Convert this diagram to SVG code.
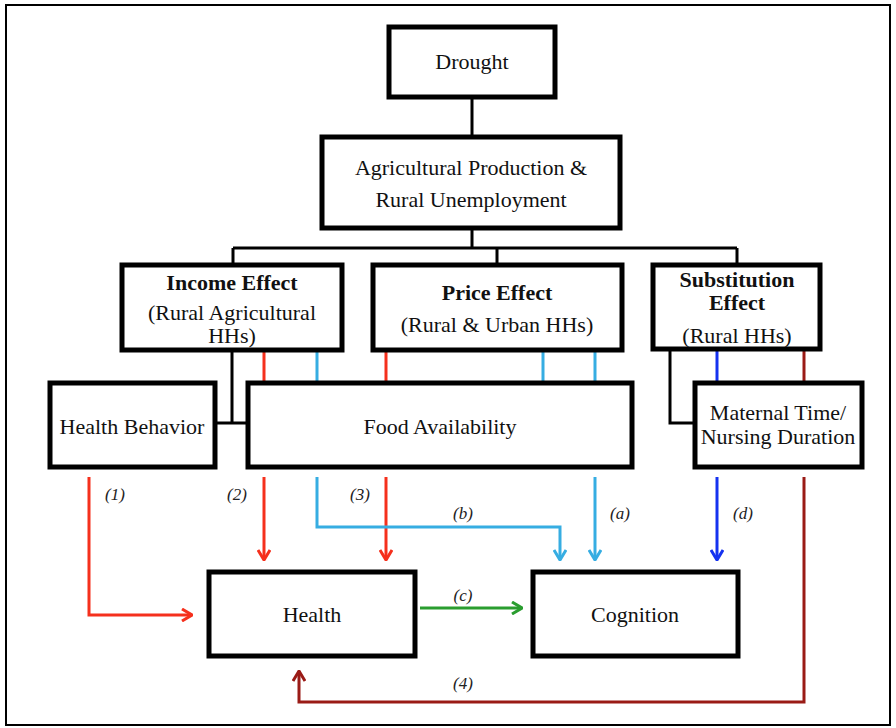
<svg xmlns="http://www.w3.org/2000/svg" width="896" height="728" viewBox="0 0 896 728">
<defs>
<style>
.box{fill:#fff;stroke:#000;stroke-width:5}
.t{font-family:"Liberation Serif","DejaVu Serif",serif;font-size:22px;fill:#111;text-anchor:middle}
.b{font-weight:bold}
.lbl{font-family:"Liberation Serif","DejaVu Serif",serif;font-style:italic;font-size:17px;fill:#222;text-anchor:middle}
.k{stroke:#000;stroke-width:3;fill:none}
.red{stroke:#f5301d;stroke-width:3;fill:none}
.lb{stroke:#36ade2;stroke-width:3;fill:none}
.bl{stroke:#1532f0;stroke-width:3;fill:none}
.gr{stroke:#2a9d2f;stroke-width:3;fill:none}
.dr{stroke:#9a1b16;stroke-width:3;fill:none}
</style>
<marker id="aRed" viewBox="0 0 12 14" refX="11" refY="7" markerWidth="12" markerHeight="14" markerUnits="userSpaceOnUse" orient="auto"><path d="M1,1 L11,7 L1,13" fill="none" stroke="#f5301d" stroke-width="3"/></marker>
<marker id="aLb" viewBox="0 0 12 14" refX="11" refY="7" markerWidth="12" markerHeight="14" markerUnits="userSpaceOnUse" orient="auto"><path d="M1,1 L11,7 L1,13" fill="none" stroke="#36ade2" stroke-width="3"/></marker>
<marker id="aBl" viewBox="0 0 12 14" refX="11" refY="7" markerWidth="12" markerHeight="14" markerUnits="userSpaceOnUse" orient="auto"><path d="M1,1 L11,7 L1,13" fill="none" stroke="#1532f0" stroke-width="3"/></marker>
<marker id="aGr" viewBox="0 0 12 14" refX="11" refY="7" markerWidth="12" markerHeight="14" markerUnits="userSpaceOnUse" orient="auto"><path d="M1,1 L11,7 L1,13" fill="none" stroke="#2a9d2f" stroke-width="3"/></marker>
<marker id="aDr" viewBox="0 0 12 14" refX="11" refY="7" markerWidth="12" markerHeight="14" markerUnits="userSpaceOnUse" orient="auto"><path d="M1,1 L11,7 L1,13" fill="none" stroke="#9a1b16" stroke-width="3"/></marker>
</defs>
<rect x="0" y="0" width="896" height="728" fill="#fff"/>
<rect x="6" y="5" width="884" height="720" fill="none" stroke="#000" stroke-width="2"/>

<g id="connectors">
<path class="k" d="M472,97 V137"/>
<path class="k" d="M472,228 V248 M233,248 H737 M233,248 V265 M497,248 V265 M737,248 V265"/>
<path class="k" d="M232,350 V423 M215,423 H248"/>
<path class="k" d="M670,349 V423 H695"/>
<path class="red" d="M264,350 V383 M386,350 V383"/>
<path class="lb" d="M317,350 V383 M543,350 V383 M595,350 V383"/>
<path class="bl" d="M717,349 V383"/>
<path class="dr" d="M804,349 V383"/>
<path class="red" d="M89,477 V615 H192" marker-end="url(#aRed)"/>
<path class="red" d="M264,477 V560" marker-end="url(#aRed)"/>
<path class="red" d="M386,477 V560" marker-end="url(#aRed)"/>
<path class="lb" d="M317,477 V527 H560 V560" marker-end="url(#aLb)"/>
<path class="lb" d="M595,477 V560" marker-end="url(#aLb)"/>
<path class="bl" d="M717,477 V560" marker-end="url(#aBl)"/>
<path class="gr" d="M420,608 H522" marker-end="url(#aGr)"/>
<path class="dr" d="M804,477 V702 H299 V671" marker-end="url(#aDr)"/>
<text class="lbl" x="115" y="500">(1)</text>
<text class="lbl" x="237" y="500">(2)</text>
<text class="lbl" x="360" y="500">(3)</text>
<text class="lbl" x="463" y="519">(b)</text>
<text class="lbl" x="620" y="519">(a)</text>
<text class="lbl" x="743" y="519">(d)</text>
<text class="lbl" x="463" y="601">(c)</text>
<text class="lbl" x="463" y="689">(4)</text>
</g>

<g id="drought"><rect class="box" x="389" y="27" width="166" height="70"/><text class="t" x="472" y="69">Drought</text></g>
<g id="agri"><rect class="box" x="322" y="137" width="298" height="91"/><text class="t" x="471" y="175">Agricultural Production &amp;</text><text class="t" x="471" y="207">Rural Unemployment</text></g>
<g id="income"><rect class="box" x="122" y="265" width="220" height="85"/><text class="t b" x="232" y="290">Income Effect</text><text class="t" x="232" y="320">(Rural Agricultural</text><text class="t" x="232" y="343">HHs)</text></g>
<g id="price"><rect class="box" x="373" y="265" width="249" height="85"/><text class="t b" x="497" y="300">Price Effect</text><text class="t" x="497" y="332">(Rural &amp; Urban HHs)</text></g>
<g id="substitution"><rect class="box" x="653" y="265" width="167" height="84"/><text class="t b" x="737" y="287" font-size="21">Substitution</text><text class="t b" x="737" y="310" font-size="21">Effect</text><text class="t" x="737" y="343">(Rural HHs)</text></g>
<g id="healthbehavior"><rect class="box" x="50" y="383" width="165" height="84"/><text class="t" x="132" y="434">Health Behavior</text></g>
<g id="food"><rect class="box" x="248" y="383" width="384" height="84"/><text class="t" x="440" y="434">Food Availability</text></g>
<g id="maternal"><rect class="box" x="695" y="383" width="167" height="84"/><text class="t" x="778" y="420">Maternal Time/</text><text class="t" x="778" y="444">Nursing Duration</text></g>
<g id="health"><rect class="box" x="209" y="572" width="206" height="84"/><text class="t" x="312" y="622">Health</text></g>
<g id="cognition"><rect class="box" x="533" y="572" width="205" height="84"/><text class="t" x="635" y="622">Cognition</text></g>
</svg>
